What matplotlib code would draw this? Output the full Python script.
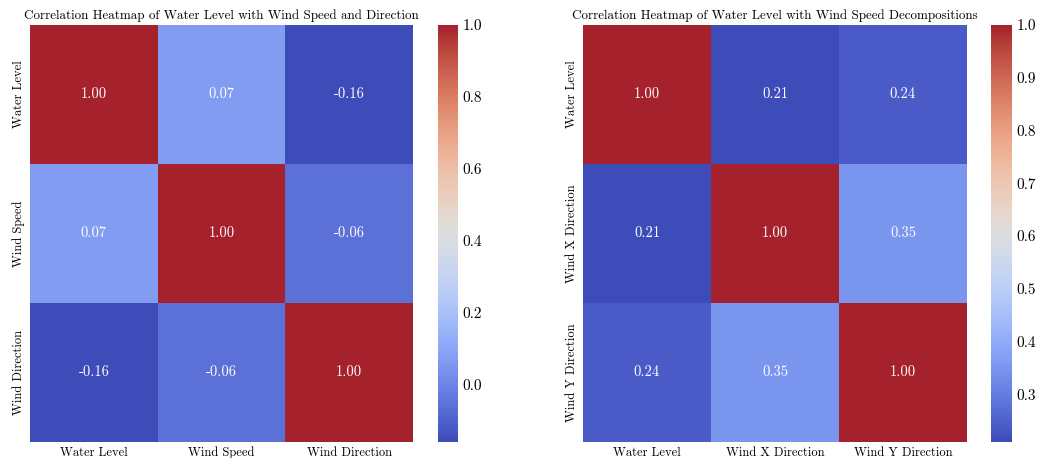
import matplotlib
matplotlib.use("Agg")
import matplotlib.pyplot as plt
from matplotlib.colors import ListedColormap
import numpy as np
import seaborn as sns

plt.rcParams['font.family'] = ['cmr10', 'DejaVu Serif']
plt.rcParams['mathtext.fontset'] = 'cm'
plt.rcParams['axes.unicode_minus'] = False

labels_left = ["Water Level", "Wind Speed", "Wind Direction"]
corr_left = [[1.00, 0.07, -0.16],
             [0.07, 1.00, -0.06],
             [-0.16, -0.06, 1.00]]
title_left = "Correlation Heatmap of Water Level with Wind Speed and Direction"

labels_right = ["Water Level", "Wind X Direction", "Wind Y Direction"]
corr_right = [[1.00, 0.21, 0.24],
              [0.21, 1.00, 0.35],
              [0.24, 0.35, 1.00]]
title_right = "Correlation Heatmap of Water Level with Wind Speed Decompositions"


def srgb_to_p3_values(rgb):
    # the reference colours look like sRGB coolwarm re-expressed in Display P3 values
    rgb = np.asarray(rgb, dtype=float)
    lin = np.where(rgb <= 0.04045, rgb / 12.92, ((rgb + 0.055) / 1.055) ** 2.4)
    M = np.array([[0.8225, 0.1774, 0.0000],
                  [0.0332, 0.9669, 0.0000],
                  [0.0171, 0.0724, 0.9108]])
    out = lin @ M.T
    out = np.clip(out, 0, 1)
    enc = np.where(out <= 0.0031308, out * 12.92, 1.055 * out ** (1 / 2.4) - 0.055)
    return np.clip(enc, 0, 1)


base = plt.get_cmap("coolwarm")(np.linspace(0, 1, 256))[:, :3]
cmap = ListedColormap(srgb_to_p3_values(base))

W, H = 1039, 458
fig = plt.figure(figsize=(W / 100, H / 100), dpi=100)


def box(x0, x1, y0, y1):
    return [x0 / W, (H - y1) / H, (x1 - x0) / W, (y1 - y0) / H]


ax1 = fig.add_axes(box(30, 413, 25, 442))
cax1 = fig.add_axes(box(438, 458, 25, 442))
ax2 = fig.add_axes(box(583, 967, 25, 442))
cax2 = fig.add_axes(box(991, 1012, 25, 442))

fs = 9
for ax, cax, data, labels, title, ticks in [
    (ax1, cax1, corr_left, labels_left, title_left, np.arange(0.0, 1.01, 0.2)),
    (ax2, cax2, corr_right, labels_right, title_right, np.arange(0.3, 1.01, 0.1)),
]:
    arr = np.array(data)
    sns.heatmap(arr, ax=ax, cbar_ax=cax, cmap=cmap, annot=True, fmt=".2f",
                annot_kws={"color": "white", "fontsize": 10.5},
                xticklabels=labels, yticklabels=labels)
    ax.set_title(title, fontsize=9.4, pad=4)
    ax.tick_params(length=0, labelsize=fs)
    ax.set_yticklabels(labels, rotation=90, va="center", fontsize=fs)
    ax.set_xticklabels(labels, rotation=0, fontsize=fs)
    cax.tick_params(length=0, labelsize=11)
    cax.set_yticks(ticks)
    cax.set_yticklabels([f"{t:.1f}" for t in ticks])

fig.savefig("out.png", dpi=100)
